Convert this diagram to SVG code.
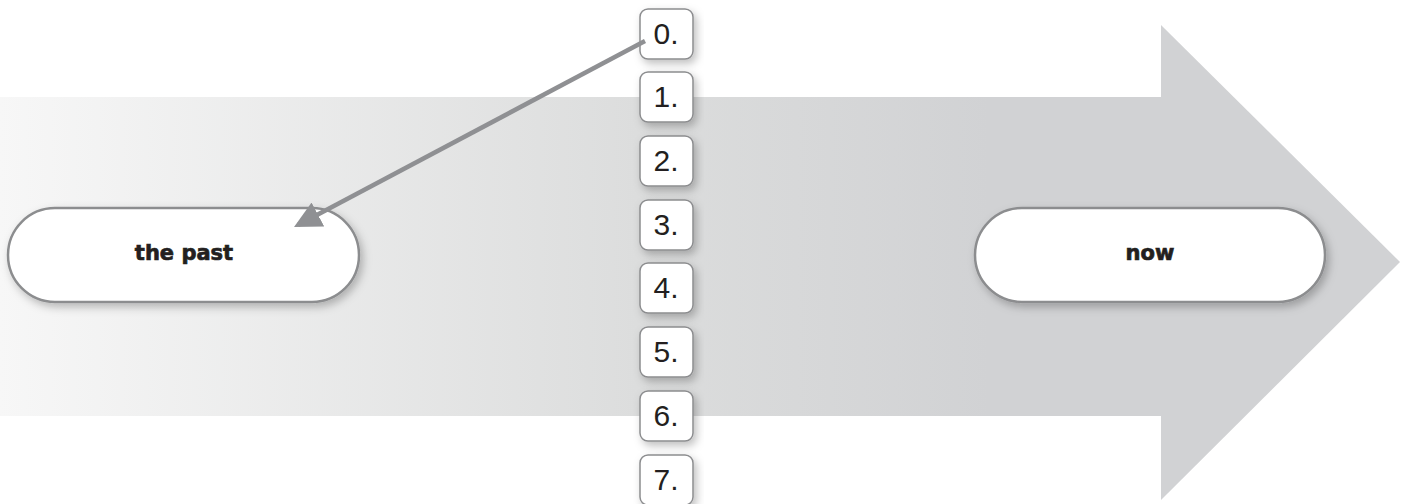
<svg xmlns="http://www.w3.org/2000/svg" width="1414" height="504" viewBox="0 0 1414 504">
<defs>
<linearGradient id="bodyGrad" x1="0" y1="0" x2="1414" y2="0" gradientUnits="userSpaceOnUse">
<stop offset="0" stop-color="#f7f7f7"/>
<stop offset="0.45" stop-color="#dcdddd"/>
<stop offset="0.7" stop-color="#d1d2d4"/>
<stop offset="1" stop-color="#d1d2d4"/>
</linearGradient>
<filter id="shadow" x="-20%" y="-30%" width="140%" height="170%">
<feDropShadow dx="3" dy="4" stdDeviation="4" flood-color="#000" flood-opacity="0.25"/>
</filter>
<marker id="arrowHead" markerWidth="6" markerHeight="6" refX="5" refY="3" orient="auto" markerUnits="strokeWidth">
<path d="M0,0 L6,3 L0,6 Z" fill="#8f9093"/>
</marker>
<style>
.pill{fill:#ffffff;stroke:#8c8d8f;stroke-width:2.5;filter:url(#shadow)}
.box{fill:#ffffff;stroke:#8c8d8f;stroke-width:1.5;filter:url(#shadow)}
.lbl{font-family:"DejaVu Sans",sans-serif;font-weight:bold;font-size:21px;fill:#231f20;stroke:#231f20;stroke-width:0.7;text-anchor:middle}
.num{font-family:"Liberation Sans",Arial,sans-serif;font-size:30px;fill:#231f20;text-anchor:middle}
.conn{stroke:#8f9093;stroke-width:4.5;fill:none}
</style>
</defs>
<g id="big-arrow">
<rect x="0" y="97" width="1162" height="319" fill="url(#bodyGrad)"/>
<polygon points="1161,25 1400,262 1161,500" fill="#d1d2d4"/>
</g>
<g id="node-past">
<rect class="pill" x="8" y="208" width="351" height="94" rx="47" ry="47"/>
<text class="lbl" x="184" y="260">the past</text>
</g>
<g id="node-now">
<rect class="pill" x="975" y="208" width="350" height="94" rx="47" ry="47"/>
<text class="lbl" x="1150" y="260">now</text>
</g>
<g id="node-0"><rect class="box" x="640" y="9" width="53" height="50" rx="8"/><text class="num" x="666" y="44">0.</text></g>
<g id="node-1"><rect class="box" x="640" y="72" width="53" height="50" rx="8"/><text class="num" x="666" y="107">1.</text></g>
<g id="node-2"><rect class="box" x="640" y="136" width="53" height="50" rx="8"/><text class="num" x="666" y="171">2.</text></g>
<g id="node-3"><rect class="box" x="640" y="200" width="53" height="50" rx="8"/><text class="num" x="666" y="235">3.</text></g>
<g id="node-4"><rect class="box" x="640" y="263" width="53" height="50" rx="8"/><text class="num" x="666" y="298">4.</text></g>
<g id="node-5"><rect class="box" x="640" y="327" width="53" height="50" rx="8"/><text class="num" x="666" y="362">5.</text></g>
<g id="node-6"><rect class="box" x="640" y="391" width="53" height="50" rx="8"/><text class="num" x="666" y="426">6.</text></g>
<g id="node-7"><rect class="box" x="640" y="455" width="53" height="50" rx="8"/><text class="num" x="666" y="490">7.</text></g>
<g id="connectors">
<line class="conn" x1="645" y1="41" x2="298" y2="225" marker-end="url(#arrowHead)"/>
</g>
</svg>
